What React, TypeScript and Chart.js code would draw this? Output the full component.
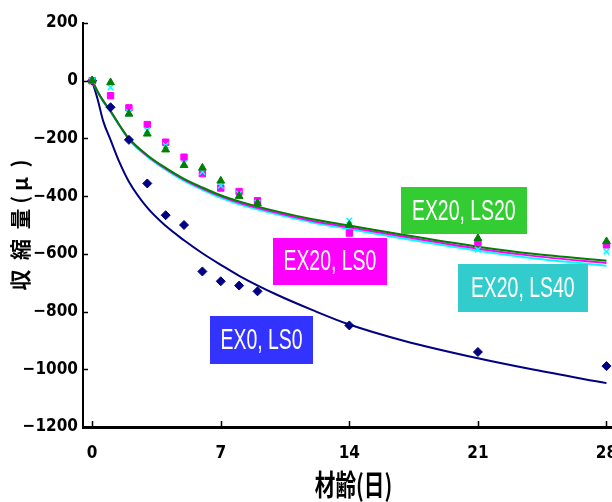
import React, { useEffect, useRef } from 'react';
import { Chart, registerables } from 'chart.js';

Chart.register(...registerables);

// Measured ages (days)
const days = [0, 1, 2, 3, 4, 5, 6, 7, 8, 9, 14, 21, 28];
// Measured shrinkage (μ)
const ex0ls0 = [0, -92, -205, -356, -466, -500, -661, -695, -710, -730, -848, -940, -989];
const ex20ls0 = [0, -52, -94, -152, -213, -265, -322, -372, -384, -416, -528, -561, -569];
const ex20ls20 = [0, -6, -115, -184, -239, -293, -302, -347, -400, -425, -500, -546, -557];
const ex20ls40 = [0, -23, -109, -172, -224, -286, -316, -364, -391, -423, -485, -585, -592];

// Fitted curves
const fitDays = [0, 0.3, 0.6, 1, 1.5, 2, 3, 4, 5, 6, 7, 8, 10, 12, 14, 17, 21, 24, 28];
const fitEx0ls0 = [0, -65, -140, -205, -285, -350, -440, -503, -553, -598, -638, -676, -740, -795, -845, -902, -962, -1001, -1048];
const fitEx20ls20 = [0, -38, -70, -105, -155, -200, -258, -302, -340, -370, -397, -418, -452, -480, -502, -535, -575, -600, -624];
const fitEx20ls0 = [0, -38, -70, -106, -156, -202, -260, -305, -343, -374, -401, -423, -457, -486, -508, -541, -582, -607, -632];
const fitEx20ls40 = [0, -39, -72, -108, -158, -204, -263, -308, -347, -378, -406, -428, -462, -491, -514, -548, -589, -615, -641];

const xTickValues = [0, 7, 14, 21, 28];
const yTickValues = [200, 0, -200, -400, -600, -800, -1000, -1200];
const yTickLabels = ['200', '0', '\u2212200', '\u2212400', '\u2212600', '\u2212800', '\u22121000', '\u22121200'];

const seriesNames = ['EX0, LS0', 'EX20, LS0', 'EX20, LS20', 'EX20, LS40'];
const xTitle = '材齢(日)';
const yTitle = '収  縮  量 ( μ  )';

// Label boxes anchored in data coordinates
const boxDays = [9.22, 12.94, 20.23, 23.44];
const boxValues = [-897, -626, -450, -717];

const NAVY = '#000080';
const MAGENTA = '#FF00FF';
const GREEN = '#008000';
const CYAN = '#00FFFF';
const boxColors = ['#3333FF', '#FF00FF', '#33CC33', '#33CCCC'];
const boxSizes = [[103, 48], [114, 47], [126, 47], [130, 48]];

const toXY = (xs: number[], ys: number[]) => xs.map((x, i) => ({ x, y: ys[i] }));

const tickFont = { family: "'Liberation Sans Narrow', 'DejaVu Sans Condensed', 'Liberation Sans', Arial, sans-serif", size: 17, weight: 'bold' as const };

const boxPlugin = {
  id: 'boxesAndTicks',
  afterDatasetsDraw(chart: any) {
    const { ctx, scales } = chart;
    const xs = scales.x;
    const ys = scales.y;
    seriesNames.forEach((name, i) => {
      const cx = xs.getPixelForValue(boxDays[i]);
      const cy = ys.getPixelForValue(boxValues[i]);
      const [w, h] = boxSizes[i];
      ctx.save();
      ctx.fillStyle = boxColors[i];
      ctx.fillRect(Math.round(cx - w / 2), Math.round(cy - h / 2), w, h);
      ctx.fillStyle = '#FFFFFF';
      ctx.font = "29px 'Liberation Sans', Arial, sans-serif";
      ctx.textAlign = 'center';
      ctx.textBaseline = 'middle';
      ctx.translate(cx, cy + 1);
      ctx.scale(0.67, 1);
      ctx.fillText(name, 0, 0);
      ctx.restore();
    });
  },
  afterDraw(chart: any) {
    const { ctx, chartArea, scales } = chart;
    ctx.save();
    ctx.strokeStyle = '#000';
    ctx.lineWidth = 1.5;
    scales.y.ticks.forEach((t: any) => {
      const py = Math.round(scales.y.getPixelForValue(t.value)) + 0.5;
      ctx.beginPath();
      ctx.moveTo(chartArea.left, py);
      ctx.lineTo(chartArea.left + 5, py);
      ctx.stroke();
    });
    scales.x.ticks.forEach((t: any) => {
      const px = Math.round(scales.x.getPixelForValue(t.value)) + 0.5;
      ctx.beginPath();
      ctx.moveTo(px, chartArea.bottom);
      ctx.lineTo(px, chartArea.bottom - 6);
      ctx.stroke();
    });
    // x-axis title, condensed like the original
    ctx.fillStyle = '#000';
    ctx.font = "bold 29px 'Noto Sans CJK JP', sans-serif";
    ctx.textAlign = 'center';
    ctx.textBaseline = 'middle';
    ctx.translate((chartArea.left + chartArea.right) / 2 + 6, scales.x.bottom - 17);
    ctx.scale(0.71, 1);
    ctx.fillText(xTitle, 0, 0);
    ctx.restore();
  },
};

export default function App() {
  const ref = useRef<HTMLCanvasElement | null>(null);
  useEffect(() => {
    if (!ref.current) return;
    const chart = new Chart(ref.current, {
      type: 'scatter',
      data: {
        datasets: [
          { label: seriesNames[2], data: toXY(days, ex20ls20), pointStyle: 'triangle', radius: 4.5, backgroundColor: GREEN, borderColor: GREEN, borderWidth: 1 },
          { label: seriesNames[3], data: toXY(days, ex20ls40), pointStyle: 'crossRot', radius: 4, backgroundColor: CYAN, borderColor: CYAN, borderWidth: 1.5 },
          { label: seriesNames[1], data: toXY(days, ex20ls0), pointStyle: 'rect', radius: 4.5, backgroundColor: MAGENTA, borderColor: MAGENTA, borderWidth: 1 },
          { label: seriesNames[0], data: toXY(days, ex0ls0), pointStyle: 'rectRot', radius: 4.5, backgroundColor: NAVY, borderColor: NAVY, borderWidth: 1 },
          { label: 'fit ' + seriesNames[2], data: toXY(fitDays, fitEx20ls20), showLine: true, pointRadius: 0, borderColor: GREEN, borderWidth: 2, cubicInterpolationMode: 'monotone' },
          { label: 'fit ' + seriesNames[1], data: toXY(fitDays, fitEx20ls0), showLine: true, pointRadius: 0, borderColor: MAGENTA, borderWidth: 2, cubicInterpolationMode: 'monotone' },
          { label: 'fit ' + seriesNames[3], data: toXY(fitDays, fitEx20ls40), showLine: true, pointRadius: 0, borderColor: CYAN, borderWidth: 2, cubicInterpolationMode: 'monotone' },
          { label: 'fit ' + seriesNames[0], data: toXY(fitDays, fitEx0ls0), showLine: true, pointRadius: 0, borderColor: NAVY, borderWidth: 2, cubicInterpolationMode: 'monotone' },
        ] as any,
      },
      options: {
        animation: false,
        responsive: false,
        devicePixelRatio: 1,
        layout: { autoPadding: false, padding: { top: 23, right: 0, left: 0, bottom: 0 } },
        plugins: { legend: { display: false }, tooltip: { enabled: false } },
        scales: {
          x: {
            type: 'linear',
            min: -0.5,
            max: 28.3,
            afterBuildTicks: (s: any) => { s.ticks = xTickValues.map((v) => ({ value: v })); },
            afterFit: (s: any) => { s.height = 75; s.paddingLeft = 0; s.paddingRight = 0; },
            grid: { display: false, drawTicks: false },
            border: { display: true, color: '#000', width: 3 },
            ticks: { font: tickFont, color: '#000', padding: 16, maxRotation: 0, autoSkip: false, callback: (v: any) => String(v) },
            title: { display: false, text: xTitle },
          },
          y: {
            type: 'linear',
            min: -1200,
            max: 200,
            afterBuildTicks: (s: any) => { s.ticks = yTickValues.map((v) => ({ value: v })); },
            afterFit: (s: any) => { s.width = 83; },
            grid: { display: false, drawTicks: false },
            border: { display: true, color: '#000', width: 2 },
            ticks: {
              font: tickFont, color: '#000', padding: 5, autoSkip: false,
              callback: (v: any) => yTickLabels[yTickValues.indexOf(Number(v))] ?? String(v),
            },
            title: { display: true, text: yTitle, color: '#000', font: { family: "'Noto Sans CJK JP', sans-serif", size: 21, weight: 'bold' }, padding: { top: 7, bottom: 0 } },
          },
        },
      },
      plugins: [boxPlugin],
    } as any);
    return () => chart.destroy();
  }, []);
  return (
    <div style={{ position: 'absolute', left: 0, top: 0, width: 612, height: 502, background: '#fff' }}>
      <canvas ref={ref} width={612} height={502} style={{ display: 'block' }} />
    </div>
  );
}
